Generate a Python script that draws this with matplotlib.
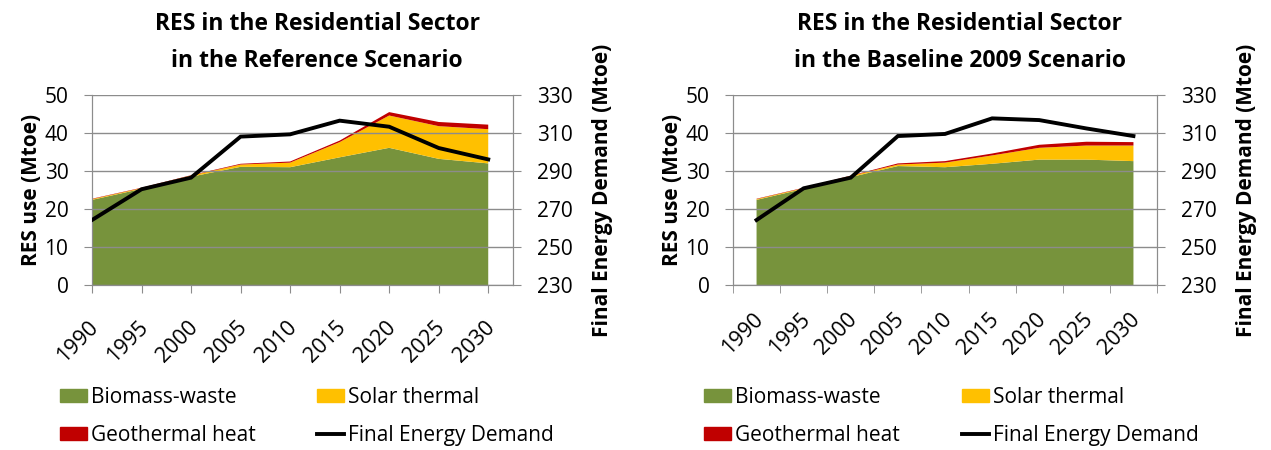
import numpy as np
import matplotlib
matplotlib.use("Agg")
import matplotlib.pyplot as plt
import matplotlib.transforms as mtransforms
from matplotlib.patches import Patch
from matplotlib.lines import Line2D

plt.rcParams['font.family'] = ['Open Sans', 'DejaVu Sans']

years = ['1990', '1995', '2000', '2005', '2010', '2015', '2020', '2025', '2030']

# Reference scenario, Mtoe
ref_biomass = [22.4, 25.3, 28.5, 31.1, 31.0, 33.6, 36.1, 33.2, 32.0]
ref_solar = [0.2, 0.2, 0.3, 0.6, 1.2, 4.0, 8.5, 8.6, 9.0]
ref_geo = [0.1, 0.1, 0.1, 0.2, 0.3, 0.4, 0.9, 1.1, 1.2]
ref_demand = [264.2, 280.4, 286.5, 308.1, 309.3, 316.5, 313.3, 302.1, 296.1]

# Baseline 2009 scenario, Mtoe
base_biomass = [22.4, 25.3, 28.4, 31.3, 31.0, 31.9, 33.0, 33.0, 32.6]
base_solar = [0.2, 0.2, 0.3, 0.4, 1.2, 2.2, 3.1, 3.7, 4.1]
base_geo = [0.1, 0.1, 0.1, 0.3, 0.4, 0.5, 0.8, 1.0, 0.9]
base_demand = [264.2, 280.9, 286.5, 308.4, 309.5, 317.7, 316.8, 312.4, 308.4]

GREEN = '#77933C'
YELLOW = '#FFC000'
RED = '#C00000'
GRID = '#8C8C8C'
FS = 15

W, H = 1271, 450
fig = plt.figure(figsize=(W / 100, H / 100), dpi=100)


def panel(left_px, width_px, title, biomass, solar, geo, demand, between):
    ax = fig.add_axes([left_px / W, 1 - 285 / H, width_px / W, 190 / H])
    x = np.arange(len(years))
    ax.stackplot(x, biomass, solar, geo, colors=[GREEN, YELLOW, RED], lw=0)
    ax.set_ylim(0, 50)
    ax.set_yticks(range(0, 51, 10))
    if between:
        ax.set_xlim(-0.5, len(years) - 0.5)
        ax.set_xticks(x)
        ax.set_xticks(np.arange(-0.5, len(years)), minor=True)
        ax.tick_params(axis='x', which='major', length=0)
        ax.tick_params(axis='x', which='minor', length=6, color=GRID, direction='out')
    else:
        ax.set_xlim(0, len(years) - 0.5)
        ax.set_xticks(x)
        ax.tick_params(axis='x', length=6, color=GRID, direction='out')
    ax.set_xticklabels(years, rotation=45, ha='right', va='top',
                       rotation_mode='anchor', fontsize=15.5)
    offset = mtransforms.ScaledTranslation(-4 / 100, -19 / 100, fig.dpi_scale_trans)
    for lbl in ax.get_xticklabels():
        lbl.set_transform(lbl.get_transform() + offset)
    ax.tick_params(axis='y', length=6, color=GRID, direction='out', pad=11, labelsize=FS)
    ax.grid(axis='y', color=GRID, lw=1)
    ax.set_axisbelow(False)
    ax.spines['top'].set_visible(False)
    for s in ['left', 'bottom', 'right']:
        ax.spines[s].set_color(GRID)
    ax.set_ylabel('RES use (Mtoe)', fontsize=FS, fontweight='bold', labelpad=2)

    ax2 = ax.twinx()
    ax2.plot(x, demand, color='black', lw=2.8, solid_joinstyle='miter', zorder=5)
    ax2.set_ylim(230, 330)
    ax2.set_yticks(range(230, 331, 20))
    ax2.tick_params(axis='y', length=6, color=GRID, direction='out', pad=11, labelsize=FS)
    ax2.spines['top'].set_visible(False)
    for s in ['left', 'bottom', 'right']:
        ax2.spines[s].set_color(GRID)
    ax2.set_ylabel('Final Energy Demand (Mtoe)', fontsize=FS, fontweight='bold', labelpad=14)

    ax.set_title(title, fontsize=16.5, fontweight='bold', linespacing=1.75, pad=20, x=0.535)
    return ax


ax_ref = panel(92, 421, 'RES in the Residential Sector\nin the Reference Scenario',
               ref_biomass, ref_solar, ref_geo, ref_demand, between=False)
ax_base = panel(733, 424, 'RES in the Residential Sector\nin the Baseline 2009 Scenario',
                base_biomass, base_solar, base_geo, base_demand, between=True)

col1 = [Patch(color=GREEN), Patch(color=RED)]
col1_labels = ['Biomass-waste', 'Geothermal heat']
col2 = [Patch(color=YELLOW), Line2D([], [], color='black', lw=2.8)]
col2_labels = ['Solar thermal', 'Final Energy Demand']

for x1, x2 in [(60, 317), (704, 962)]:
    for xp, hs, ls in [(x1, col1, col1_labels), (x2, col2, col2_labels)]:
        fig.legend(hs, ls, loc='upper left', bbox_to_anchor=(xp / W, 1 - 387 / H),
                   frameon=False, fontsize=FS, handlelength=1.3, handleheight=0.6,
                   handletextpad=0.2, labelspacing=0.82, borderaxespad=0, borderpad=0)

fig.savefig('out.png', dpi=100)
